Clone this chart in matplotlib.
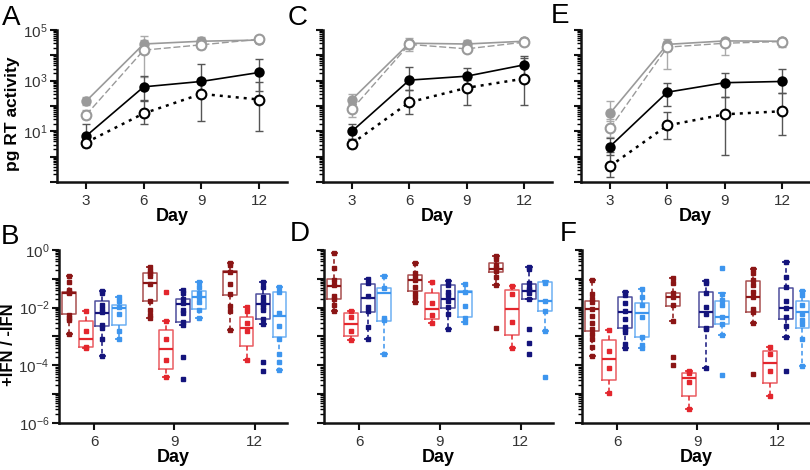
import numpy as np
import matplotlib.pyplot as plt

plt.rcParams['font.family'] = ['Liberation Sans', 'DejaVu Sans']
plt.rcParams['mathtext.default'] = 'regular'

days_top = [3, 6, 9, 12]
days_box = [6, 9, 12]

# --- top panels: pg RT activity (mean, lower, upper) ---
A_gf = [155, 28000, 36000, 40000]; A_gf_lo = [110, 12000, 28000, 30000]; A_gf_hi = [230, 60000, 55000, 60000]
A_go = [44, 16000, 26000, 43000]; A_go_lo = [30, 1400, 18000, 32000]; A_go_hi = [70, 40000, 40000, 55000]
A_bf = [6.5, 570, 930, 2100]; A_bf_lo = [3.5, 170, 300, 400]; A_bf_hi = [20, 1500, 4600, 6900]
A_bo = [3.6, 51, 300, 180]; A_bo_lo = [2.5, 20, 25, 10]; A_bo_hi = [5, 160, 1000, 900]

C_gf = [180, 30000, 28000, 36000]; C_gf_lo = [120, 18000, 20000, 28000]; C_gf_hi = [300, 47000, 40000, 50000]
C_go = [74, 27000, 18000, 33000]; C_go_lo = [37, 15000, 14000, 26000]; C_go_hi = [120, 40000, 26000, 42000]
C_bf = [10, 1050, 1500, 4200]; C_bf_lo = [5, 430, 680, 1500]; C_bf_hi = [20, 3400, 3300, 9300]
C_bo = [3.3, 140, 520, 1200]; C_bo_lo = [2.1, 47, 105, 105]; C_bo_hi = [5, 430, 1100, 8000]

E_gf = [51, 27000, 37000, 36000]; E_gf_lo = [25, 15000, 25000, 28000]; E_gf_hi = [155, 44000, 50000, 50000]
E_go = [13, 21000, 30000, 35000]; E_go_lo = [6, 2800, 10000, 21000]; E_go_hi = [30, 35000, 45000, 45000]
E_bf = [2.5, 350, 830, 930]; E_bf_lo = [1.2, 100, 220, 320]; E_bf_hi = [5.6, 780, 1950, 2800]
E_bo = [0.42, 17, 47, 62]; E_bo_lo = [0.16, 4.8, 1.2, 7]; E_bo_hi = [1.5, 60, 220, 320]

# --- bottom panels: log10(+IFN / -IFN); stats = [whislo, q1, med, q3, whishi] per day ---
B_dr_stats = [[-2.93, -2.22, -1.50, -1.47, -0.90], [-2.37, -1.77, -1.16, -0.81, -0.60], [-2.78, -1.57, -0.77, -0.74, -0.44]]
B_dr_pts = [[-0.90, -1.10, -1.39, -1.45, -1.50, -2.26, -2.37, -2.43, -2.93],
            [-0.60, -0.72, -0.81, -0.90, -1.19, -1.77, -2.08, -2.26, -2.37],
            [-0.44, -0.52, -0.76, -1.19, -1.54, -1.93, -2.12, -2.78]]
B_rd_stats = [[-3.41, -3.38, -3.07, -2.45, -2.11], [-4.40, -4.11, -3.44, -2.78, -2.47], [-3.82, -3.32, -2.69, -2.34, -1.97]]
B_rd_pts = [[-2.11, -2.80, -3.38, -3.41], [-1.47, -2.47, -3.08, -3.82, -4.40], [-1.97, -2.12, -2.52, -2.80, -3.82]]
B_nv_stats = [[-3.67, -2.62, -2.20, -1.77, -1.42], [-2.60, -2.49, -1.89, -1.71, -1.39], [-2.55, -2.40, -1.88, -1.53, -1.11]]
B_nv_pts = [[-1.42, -1.50, -1.91, -2.03, -2.14, -2.60, -2.69, -3.10, -3.67],
            [-1.39, -1.50, -1.71, -1.83, -2.08, -2.18, -2.49, -2.60, -3.70, -4.46],
            [-1.11, -1.27, -1.62, -1.76, -1.88, -1.97, -2.08, -2.40, -2.55, -3.90, -4.19]]
B_lb_stats = [[-3.07, -2.60, -2.00, -1.91, -1.64], [-2.35, -2.05, -1.62, -1.41, -1.11], [-4.17, -3.01, -2.29, -1.47, -1.27]]
B_lb_pts = [[-1.64, -1.76, -1.97, -2.22, -2.80, -3.07],
            [-1.11, -1.27, -1.50, -1.62, -1.82, -2.08, -2.35],
            [-1.27, -1.45, -2.20, -2.64, -3.07, -3.59, -3.88, -4.17]]

D_dr_stats = [[-2.12, -1.71, -1.25, -1.02, -0.09], [-1.79, -1.41, -1.04, -0.87, -0.44], [-1.23, -0.76, -0.67, -0.44, -0.21]]
D_dr_pts = [[-0.09, -0.64, -1.04, -1.22, -1.60, -1.71, -1.91, -2.12],
            [-0.44, -0.81, -0.90, -1.04, -1.27, -1.50, -1.64, -1.79],
            [-0.21, -0.32, -0.52, -0.64, -0.72, -0.95, -1.23, -2.69]]
D_rd_stats = [[-3.13, -2.97, -2.55, -2.20, -2.11], [-2.52, -2.40, -2.05, -1.48, -1.12], [-3.40, -2.96, -2.03, -1.39, -1.25]]
D_rd_pts = [[-2.11, -2.34, -2.80, -3.13], [-1.12, -1.85, -2.26, -2.52], [-1.25, -1.53, -2.51, -3.40]]
D_nv_stats = [[-3.10, -2.14, -1.68, -1.18, -1.02], [-2.75, -2.00, -1.71, -1.23, -1.06], [-1.71, -1.71, -1.41, -1.18, -0.60]]
D_nv_pts = [[-1.02, -1.16, -1.60, -1.97, -2.11, -2.66, -3.10],
            [-1.06, -1.23, -1.45, -1.56, -1.76, -1.97, -2.22, -2.75],
            [-0.60, -0.67, -1.16, -1.33, -1.39, -1.50, -1.71, -2.75, -3.21, -3.61]]
D_lb_stats = [[-3.59, -2.47, -1.50, -1.33, -0.90], [-2.50, -2.34, -1.46, -1.43, -1.19], [-2.80, -2.13, -1.77, -1.10, -1.08]]
D_lb_pts = [[-0.90, -1.33, -2.37, -2.43, -3.59], [-1.19, -1.45, -1.94, -2.37, -2.50],
            [-1.10, -1.13, -1.77, -2.13, -2.80, -4.40]]

F_dr_stats = [[-3.68, -2.81, -2.06, -1.77, -1.04], [-2.45, -1.94, -1.64, -1.48, -0.98], [-2.52, -2.14, -1.62, -1.06, -0.67]]
F_dr_pts = [[-1.04, -1.53, -1.71, -1.79, -2.05, -2.28, -2.52, -2.75, -2.93, -3.10, -3.38, -3.68],
            [-0.98, -1.13, -1.48, -1.62, -1.91, -2.45, -3.70, -3.99],
            [-0.67, -0.81, -1.04, -1.22, -1.45, -1.62, -2.06, -2.14, -2.52, -4.31]]
F_rd_stats = [[-4.95, -4.51, -3.78, -3.13, -2.78], [-5.52, -5.06, -4.43, -4.26, -4.20], [-5.06, -4.63, -3.91, -3.50, -3.36]]
F_rd_pts = [[-2.78, -3.50, -4.09, -4.95], [-4.20, -4.28, -4.59, -5.52], [-3.36, -3.62, -4.19, -5.06]]
F_nv_stats = [[-3.39, -2.72, -2.14, -1.64, -1.47], [-4.09, -2.66, -2.14, -1.47, -1.06], [-3.01, -2.40, -2.00, -1.31, -0.41]]
F_nv_pts = [[-1.47, -1.56, -1.85, -2.12, -2.41, -2.66, -2.75, -2.84, -3.26, -3.39],
            [-1.06, -1.16, -1.50, -1.97, -2.22, -2.69, -2.75, -4.09],
            [-0.41, -0.93, -1.27, -1.77, -2.00, -2.31, -2.64, -3.01, -4.20]]
F_lb_stats = [[-3.39, -3.01, -2.18, -1.85, -1.35], [-2.95, -2.55, -2.34, -1.77, -1.50], [-4.03, -2.69, -2.15, -1.76, -1.41]]
F_lb_pts = [[-1.35, -1.62, -1.91, -2.34, -3.01, -3.30, -3.39],
            [-0.63, -1.54, -1.74, -1.91, -2.34, -2.55, -2.95, -4.34],
            [-1.41, -1.56, -1.91, -2.22, -2.43, -2.57, -3.10, -4.03]]

box_colors = ['#8b1515', '#e3262d', '#14147c', '#3d95ee']
box_offsets = [-0.92, -0.31, 0.31, 0.92]


def style_axis(ax, ylim, decades, labeled, xticks, xlim):
    ax.set_yscale('log')
    ax.set_ylim(*ylim)
    ax.set_xlim(*xlim)
    for s in ['top', 'right']:
        ax.spines[s].set_visible(False)
    for s in ['left', 'bottom']:
        ax.spines[s].set_linewidth(1.8)
        ax.spines[s].set_color('#111111')
    ticks = 10.0 ** np.array(decades)
    labels = ['$10^{%d}$' % d if d in labeled else '' for d in decades]
    ax.set_yticks(ticks, labels)
    ax.yaxis.set_minor_locator(plt.matplotlib.ticker.LogLocator(base=10, subs=np.arange(2, 10), numticks=30))
    ax.yaxis.set_minor_formatter(plt.NullFormatter())
    ax.set_xticks(xticks)
    ax.tick_params(axis='both', which='major', length=5, width=1.5, labelsize=11, colors='#111111',
                   labelcolor='#333333')
    ax.tick_params(axis='y', which='major', pad=2)
    ax.tick_params(axis='y', which='minor', length=3, width=1)
    ax.set_xlabel('Day', fontsize=13, fontweight='bold', labelpad=0)


def draw_top(ax, series):
    styles = [dict(color='#9a9a9a', ls='-', mfc='#9a9a9a', ms=6, ec='#aaaaaa', lw=1.2),
              dict(color='#9a9a9a', ls=(0, (5, 2)), mfc='white', ms=7, ec='#aaaaaa', lw=1.0),
              dict(color='#000000', ls='-', mfc='#000000', ms=6, ec='#555555', lw=1.2),
              dict(color='#000000', ls=(0, (1.2, 2)), mfc='white', ms=7, ec='#555555', lw=1.8)]
    for (mean, lo, hi), st in zip(series, styles):
        y = np.array(mean, dtype=float)
        ax.errorbar(days_top, y, yerr=[y - np.array(lo), np.array(hi) - y], fmt='none',
                    ecolor=st['ec'], elinewidth=1, capsize=3, capthick=1, zorder=2)
        ax.plot(days_top, y, color=st['color'], ls=st['ls'], lw=st['lw'], marker='o',
                mfc=st['mfc'], mec=st['color'], mew=1.5, ms=st['ms'], zorder=3)


def draw_box(ax, groups):
    for g, (stats, pts) in enumerate(groups):
        c = box_colors[g]
        pos = [d + box_offsets[g] for d in days_box]
        bxs = []
        for s in stats:
            v = 10.0 ** np.array(s)
            bxs.append(dict(whislo=v[0], q1=v[1], med=v[2], q3=v[3], whishi=v[4], fliers=[]))
        ax.bxp(bxs, positions=pos, widths=0.52, capwidths=0.2, showfliers=False,
               boxprops=dict(color=c, lw=1.1, alpha=0.75),
               medianprops=dict(color=c, lw=1.6),
               whiskerprops=dict(color=c, lw=1.1, ls=(0, (3, 2))),
               capprops=dict(color=c, lw=1.3))
        for p, vals in zip(pos, pts):
            ax.plot([p] * len(vals), 10.0 ** np.array(vals), ls='none', marker='s', ms=2.3,
                    color=c, zorder=4)


fig = plt.figure(figsize=(8.1, 4.7), dpi=100)
top_pos = [[0.0704, 0.6128, 0.284, 0.3234], [0.3988, 0.6128, 0.2827, 0.3234], [0.7173, 0.6128, 0.2827, 0.3234]]
bot_pos = [[0.0728, 0.100, 0.2815, 0.3681], [0.4000, 0.100, 0.2827, 0.3681], [0.7185, 0.100, 0.2815, 0.3681]]

top_data = [
    [(A_gf, A_gf_lo, A_gf_hi), (A_go, A_go_lo, A_go_hi), (A_bf, A_bf_lo, A_bf_hi), (A_bo, A_bo_lo, A_bo_hi)],
    [(C_gf, C_gf_lo, C_gf_hi), (C_go, C_go_lo, C_go_hi), (C_bf, C_bf_lo, C_bf_hi), (C_bo, C_bo_lo, C_bo_hi)],
    [(E_gf, E_gf_lo, E_gf_hi), (E_go, E_go_lo, E_go_hi), (E_bf, E_bf_lo, E_bf_hi), (E_bo, E_bo_lo, E_bo_hi)],
]
bot_data = [
    [(B_dr_stats, B_dr_pts), (B_rd_stats, B_rd_pts), (B_nv_stats, B_nv_pts), (B_lb_stats, B_lb_pts)],
    [(D_dr_stats, D_dr_pts), (D_rd_stats, D_rd_pts), (D_nv_stats, D_nv_pts), (D_lb_stats, D_lb_pts)],
    [(F_dr_stats, F_dr_pts), (F_rd_stats, F_rd_pts), (F_nv_stats, F_nv_pts), (F_lb_stats, F_lb_pts)],
]

for i in range(3):
    ax = fig.add_axes(top_pos[i])
    draw_top(ax, top_data[i])
    style_axis(ax, (0.1, 1e5), list(range(-1, 6)), [1, 3, 5] if i == 0 else [], days_top, (1.49, 13.46))
    if i == 0:
        ax.set_ylabel('pg RT activity', fontsize=12.5, fontweight='bold')
        ax.yaxis.set_label_coords(-0.16, 0.45)

    ax = fig.add_axes(bot_pos[i])
    draw_box(ax, bot_data[i])
    style_axis(ax, (1e-6, 1.0), list(range(-6, 1)), [0, -2, -4, -6] if i == 0 else [], days_box, (4.69, 13.2))
    ax.set_xticks(days_box, [str(d) for d in days_box])
    if i == 0:
        ax.set_ylabel('+IFN / -IFN', fontsize=12, fontweight='bold')
        ax.yaxis.set_label_coords(-0.19, 0.45)

for letter, x, y in [('A', 2, 5), ('C', 288, 5), ('E', 551, 3), ('B', 1, 224), ('D', 290, 221), ('F', 560, 221)]:
    fig.text(x / 810, 1 - y / 470, letter, fontsize=20, va='top', ha='left')

fig.savefig('out.png', dpi=100)
